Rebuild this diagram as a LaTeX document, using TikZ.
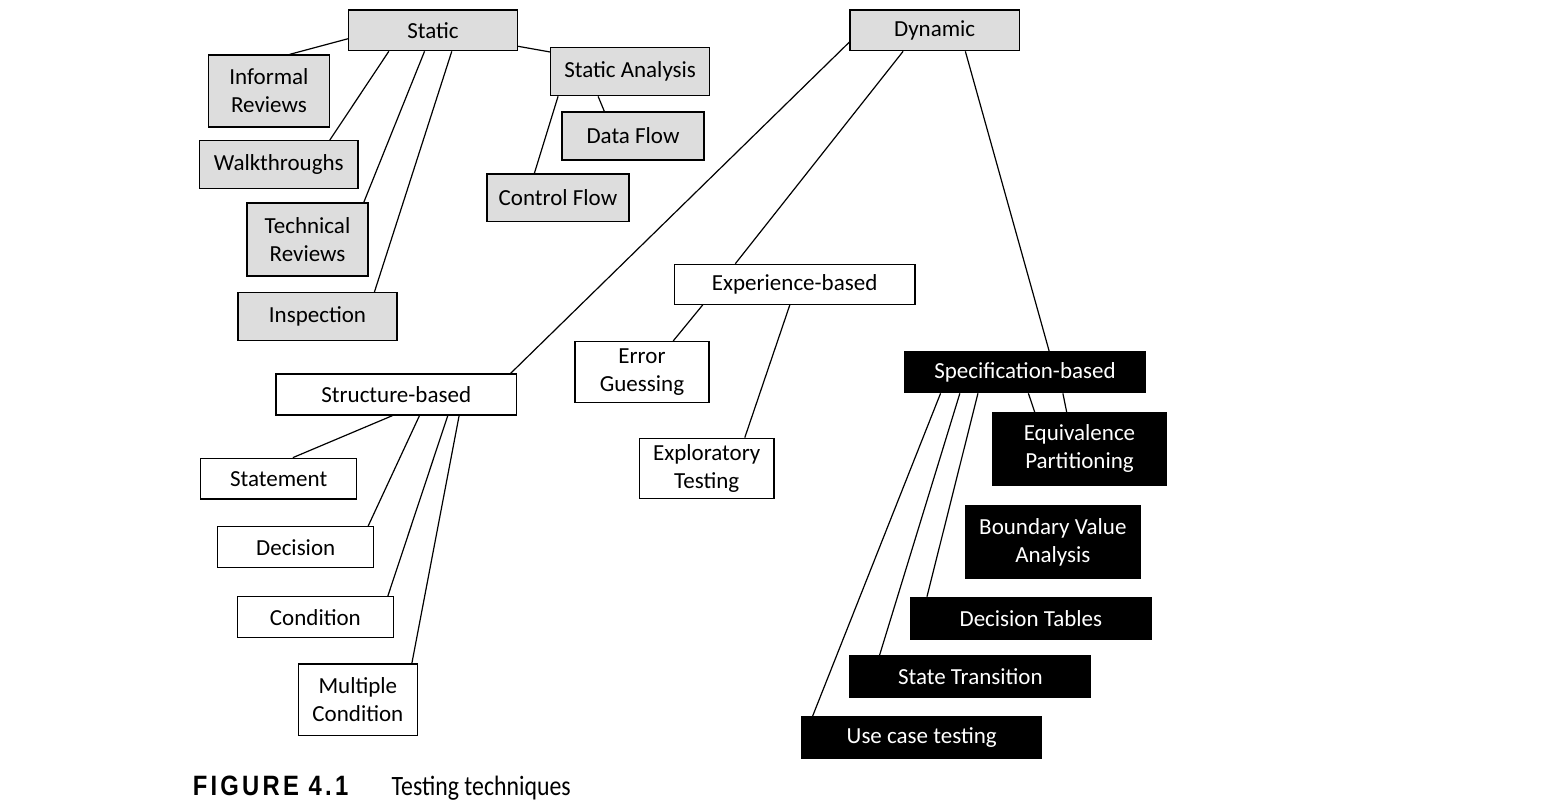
\documentclass[tikz,border=0pt]{standalone}
\usepackage{fontspec}
\setmainfont{Carlito}
\newfontfamily\capfont[FakeStretch=0.85,LetterSpace=11.5]{Liberation Sans}
\newfontfamily\capbody[FakeStretch=0.85]{Carlito}
\usetikzlibrary{calc}
\definecolor{boxgray}{RGB}{221,221,221}
\tikzset{
  tbox/.style={draw=black, line width=1.3pt, inner sep=0pt, align=center,
    font=\fontsize{23}{28}\selectfont},
  greybox/.style={tbox, fill=boxgray, text=black},
  plainbox/.style={tbox, fill=white, text=black},
  blackbox/.style={tbox, fill=black, text=white},
  link/.style={line width=1.2pt, draw=black},
}
\newcommand\tb[7]{\node[#2, minimum width={#5-#3}, minimum height={#6-#4}] (#1) at ({(#3+#5)/2},{(#4+#6)/2}) {#7};}
\begin{document}
\begin{tikzpicture}[x=1pt,y=-1pt]
\fill[white] (0,0) rectangle (1546,803);
\useasboundingbox (0,0) rectangle (1546,803);
% static side
\tb{static}{greybox}{348.6}{10}{517.5}{50.7}{Static}
\tb{dyn}{greybox}{850}{10}{1019.3}{50.7}{Dynamic}
\tb{informal}{greybox}{208.6}{55}{329.3}{127}{Informal\\Reviews}
\tb{walk}{greybox}{199.6}{140.7}{357.9}{188.3}{Walkthroughs}
\tb{tech}{greybox}{247}{203}{368}{276}{Technical\\Reviews}
\tb{insp}{greybox}{238}{292.7}{397}{340.7}{Inspection}
\tb{sa}{greybox}{550.7}{47.7}{709.6}{95.7}{Static Analysis}
\tb{df}{greybox}{562}{112}{704}{160}{Data Flow}
\tb{cf}{greybox}{487}{174}{629}{221.7}{Control Flow}
% experience
\tb{exp}{plainbox}{674.3}{264.3}{915}{304.3}{Experience-based}
\tb{err}{plainbox}{575}{341.7}{709}{402.7}{Error\\Guessing}
\tb{expl}{plainbox}{639.5}{438.3}{774}{498.3}{Exploratory\\Testing}
% structure
\tb{struct}{plainbox}{276}{374}{516.5}{415}{Structure-based}
\tb{stmt}{plainbox}{200.6}{458.3}{356.7}{499}{Statement}
\tb{dec}{plainbox}{217.6}{526.7}{373.8}{567.7}{Decision}
\tb{cond}{plainbox}{237.3}{596.7}{393.5}{637.7}{Condition}
\tb{multi}{plainbox}{298.6}{664}{417.2}{735.7}{Multiple\\Condition}
% specification
\tb{spec}{blackbox}{905}{351.7}{1145}{392.7}{Specification-based}
\tb{equiv}{blackbox}{992.3}{412.7}{1166.7}{485}{Equivalence\\Partitioning}
\tb{bva}{blackbox}{965.7}{506}{1140}{578.3}{Boundary Value\\Analysis}
\tb{dt}{blackbox}{910.7}{597.3}{1151}{639.3}{Decision Tables}
\tb{st}{blackbox}{850}{655.7}{1090.7}{697.3}{State Transition}
\tb{uc}{blackbox}{801.7}{716.7}{1041.7}{758.3}{Use case testing}
% connectors: static
\draw[link] ($(static.south west)!0.30!(static.north west)$) -- ($(informal.north west)!0.67!(informal.north east)$);
\draw[link] ($(static.south west)!0.24!(static.south east)$) -- ($(walk.north west)!0.82!(walk.north east)$);
\draw[link] ($(static.south west)!0.45!(static.south east)$) -- ($(tech.north west)!0.96!(tech.north east)$);
\draw[link] ($(static.south west)!0.61!(static.south east)$) -- ($(insp.north west)!0.855!(insp.north east)$);
\draw[link] ($(static.south east)!0.12!(static.north east)$) -- ($(sa.south west)!0.9!(sa.north west)$);
\draw[link] ($(sa.south west)!0.30!(sa.south east)$) -- ($(df.north west)!0.30!(df.north east)$);
\draw[link] ($(sa.south west)!0.05!(sa.south east)$) -- ($(cf.north west)!0.335!(cf.north east)$);
% connectors: dynamic
\draw[link] ($(dyn.south west)!0.22!(dyn.north west)$) -- ($(struct.north west)!0.973!(struct.north east)$);
\draw[link] ($(dyn.south west)!0.315!(dyn.south east)$) -- ($(exp.north west)!0.255!(exp.north east)$);
\draw[link] ($(dyn.south west)!0.68!(dyn.south east)$) -- ($(spec.north west)!0.60!(spec.north east)$);
% experience
\draw[link] ($(exp.south west)!0.12!(exp.south east)$) -- ($(err.north west)!0.73!(err.north east)$);
\draw[link] ($(exp.south west)!0.48!(exp.south east)$) -- ($(expl.north west)!0.78!(expl.north east)$);
% structure
\draw[link] ($(struct.south west)!0.484!(struct.south east)$) -- ($(stmt.north west)!0.59!(stmt.north east)$);
\draw[link] ($(struct.south west)!0.596!(struct.south east)$) -- ($(dec.north west)!0.96!(dec.north east)$);
\draw[link] ($(struct.south west)!0.713!(struct.south east)$) -- ($(cond.north west)!0.96!(cond.north east)$);
\draw[link] ($(struct.south west)!0.76!(struct.south east)$) -- ($(multi.north west)!0.95!(multi.north east)$);
% specification
\draw[link] ($(spec.south west)!0.15!(spec.south east)$) -- ($(uc.north west)!0.048!(uc.north east)$);
\draw[link] ($(spec.south west)!0.23!(spec.south east)$) -- ($(st.north west)!0.125!(st.north east)$);
\draw[link] ($(spec.south west)!0.305!(spec.south east)$) -- ($(dt.north west)!0.07!(dt.north east)$);
\draw[link] ($(spec.south west)!0.514!(spec.south east)$) -- ($(equiv.north west)!0.245!(equiv.north east)$);
\draw[link] ($(spec.south west)!0.657!(spec.south east)$) -- ($(equiv.north west)!0.427!(equiv.north east)$);
% caption
\node[anchor=base west, inner sep=0pt, font=\capfont\bfseries\fontsize{28}{30}\selectfont] (figno) at (192.7,795) {FIGURE 4.1};
\node[anchor=base west, inner sep=0pt, font=\capbody\fontsize{28}{30}\selectfont] (figtitle) at (391.5,795) {Testing techniques};
\end{tikzpicture}
\end{document}
